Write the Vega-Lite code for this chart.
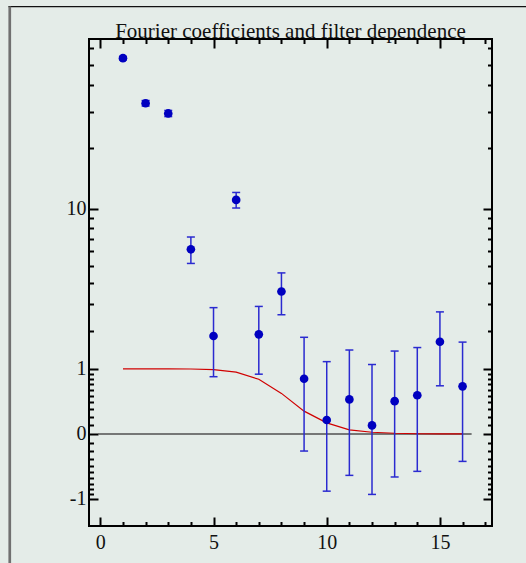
{
  "$schema": "https://vega.github.io/schema/vega-lite/v6.json",
  "width": 403,
  "height": 487,
  "autosize": {"type": "none"},
  "padding": {"left": 89, "top": 39, "right": 34, "bottom": 37},
  "background": "#e4ece8",
  "title": {
    "text": "Fourier coefficients and filter dependence",
    "font": "Liberation Serif",
    "fontSize": 21,
    "fontWeight": "normal",
    "color": "#111111",
    "anchor": "middle",
    "frame": "group",
    "baseline": "alphabetic",
    "offset": -54
  },
  "config": {
    "view": {"stroke": "#000000", "strokeWidth": 2},
    "axis": {
      "grid": false,
      "domain": false,
      "labelFont": "Liberation Serif",
      "labelFontSize": 20,
      "labelColor": "#111111",
      "tickColor": "#000000",
      "tickWidth": 2,
      "title": null
    }
  },
  "data": {
    "values": [
      {"x": 1, "y": 53.8, "lo": 52.8, "hi": 54.8, "filter": 1.0},
      {"x": 2, "y": 32.9, "lo": 31.9, "hi": 33.9, "filter": 1.0},
      {"x": 3, "y": 29.4, "lo": 28.4, "hi": 30.4, "filter": 1.0},
      {"x": 4, "y": 6.15, "lo": 5.15, "hi": 7.15, "filter": 0.997},
      {"x": 5, "y": 1.84, "lo": 0.84, "hi": 2.84, "filter": 0.985},
      {"x": 6, "y": 11.1, "lo": 10.1, "hi": 12.1, "filter": 0.93},
      {"x": 7, "y": 1.89, "lo": 0.89, "hi": 2.89, "filter": 0.79},
      {"x": 8, "y": 3.56, "lo": 2.56, "hi": 4.56, "filter": 0.54},
      {"x": 9, "y": 0.8, "lo": -0.2, "hi": 1.8, "filter": 0.275},
      {"x": 10, "y": 0.16, "lo": -0.84, "hi": 1.16, "filter": 0.125},
      {"x": 11, "y": 0.445, "lo": -0.555, "hi": 1.445, "filter": 0.045},
      {"x": 12, "y": 0.095, "lo": -0.905, "hi": 1.095, "filter": 0.018},
      {"x": 13, "y": 0.418, "lo": -0.582, "hi": 1.418, "filter": 0.007},
      {"x": 14, "y": 0.51, "lo": -0.49, "hi": 1.51, "filter": 0.002},
      {"x": 15, "y": 1.67, "lo": 0.67, "hi": 2.67, "filter": 0.001},
      {"x": 16, "y": 0.66, "lo": -0.34, "hi": 1.66, "filter": 0.0}
    ]
  },
  "resolve": {"axis": {"x": "independent", "y": "independent"}},
  "layer": [
    {
      "data": {"values": [{"k": 1}]},
      "mark": {"type": "rule", "color": "#111111", "strokeWidth": 1.3},
      "encoding": {
        "x": {"datum": -4.06, "type": "quantitative", "scale": {"domain": [-0.5, 17.3], "nice": false, "zero": false}, "axis": null},
        "x2": {"datum": 30},
        "y": {"datum": 93.9, "type": "quantitative", "scale": {"type": "symlog", "constant": 1, "domain": [-1.667, 66.2], "nice": false, "zero": false}, "axis": null}
      }
    },
    {
      "data": {"values": [{"k": 1}]},
      "mark": {"type": "rule", "color": "#707070", "strokeWidth": 2.7},
      "encoding": {
        "x": {"datum": -4.0, "type": "quantitative", "scale": {"domain": [-0.5, 17.3], "nice": false, "zero": false}, "axis": null},
        "y": {"datum": 93.9, "type": "quantitative", "scale": {"type": "symlog", "constant": 1, "domain": [-1.667, 66.2], "nice": false, "zero": false}, "axis": null},
        "y2": {"datum": -10}
      }
    },
    {
      "data": {"values": [{"k": 1}]},
      "mark": {"type": "rule", "color": "#505050", "strokeWidth": 1.5},
      "encoding": {
        "x": {"datum": -0.1, "type": "quantitative", "scale": {"domain": [-0.5, 17.3], "nice": false, "zero": false},
          "axis": {"orient": "bottom", "values": [0, 5, 10, 15], "ticks": false, "labelPadding": 6, "labelExpr": "datum.value + ''", "title": null}},
        "x2": {"datum": 16.4},
        "y": {"datum": 0, "type": "quantitative", "scale": {"type": "symlog", "constant": 1, "domain": [-1.667, 66.2], "nice": false, "zero": false},
          "axis": {"orient": "left", "values": [-1, 0, 1, 10], "ticks": false, "labelPadding": 3, "labelExpr": "datum.value + ''", "title": null}}
      }
    },
    {
      "mark": {"type": "line", "color": "#d00000", "strokeWidth": 1.2},
      "encoding": {
        "x": {"field": "x", "type": "quantitative", "scale": {"domain": [-0.5, 17.3], "nice": false, "zero": false},
          "axis": {"orient": "top", "values": [1, 2, 3, 4, 6, 7, 8, 9, 11, 12, 13, 14, 16, 17], "labels": false, "tickSize": -4.5, "title": null}},
        "y": {"field": "filter", "type": "quantitative", "scale": {"type": "symlog", "constant": 1, "domain": [-1.667, 66.2], "nice": false, "zero": false},
          "axis": {"orient": "right", "values": [-0.9, -0.8, -0.7, -0.6, -0.5, -0.4, -0.3, -0.2, -0.1, 0.1, 0.2, 0.3, 0.4, 0.5, 0.6, 0.7, 0.8, 0.9, 2, 3, 4, 5, 6, 7, 8, 9, 20, 30, 40, 50, 60], "labels": false, "tickSize": -4.5, "title": null}}
      }
    },
    {
      "mark": {"type": "rule", "color": "#2a2ad0", "strokeWidth": 1.5},
      "encoding": {
        "x": {"field": "x", "type": "quantitative", "scale": {"domain": [-0.5, 17.3], "nice": false, "zero": false},
          "axis": {"orient": "bottom", "values": [0, 5, 10, 15], "labels": false, "tickSize": -9, "title": null}},
        "y": {"field": "lo", "type": "quantitative", "scale": {"type": "symlog", "constant": 1, "domain": [-1.667, 66.2], "nice": false, "zero": false},
          "axis": {"orient": "left", "values": [-1, 0, 1, 10], "labels": false, "tickSize": -9, "title": null}},
        "y2": {"field": "hi"}
      }
    },
    {
      "mark": {"type": "tick", "color": "#2a2ad0", "orient": "horizontal", "size": 8, "thickness": 1.5, "opacity": 1},
      "encoding": {
        "x": {"field": "x", "type": "quantitative", "scale": {"domain": [-0.5, 17.3], "nice": false, "zero": false},
          "axis": {"orient": "bottom", "values": [1, 2, 3, 4, 6, 7, 8, 9, 11, 12, 13, 14, 16, 17], "labels": false, "tickSize": -4.5, "title": null}},
        "y": {"field": "lo", "type": "quantitative", "scale": {"type": "symlog", "constant": 1, "domain": [-1.667, 66.2], "nice": false, "zero": false},
          "axis": {"orient": "left", "values": [-0.9, -0.8, -0.7, -0.6, -0.5, -0.4, -0.3, -0.2, -0.1, 0.1, 0.2, 0.3, 0.4, 0.5, 0.6, 0.7, 0.8, 0.9, 2, 3, 4, 5, 6, 7, 8, 9, 20, 30, 40, 50, 60], "labels": false, "tickSize": -4.5, "title": null}}
      }
    },
    {
      "mark": {"type": "tick", "color": "#2a2ad0", "orient": "horizontal", "size": 8, "thickness": 1.5, "opacity": 1},
      "encoding": {
        "x": {"field": "x", "type": "quantitative", "scale": {"domain": [-0.5, 17.3], "nice": false, "zero": false},
          "axis": {"orient": "top", "values": [0, 5, 10, 15], "labels": false, "tickSize": -9, "title": null}},
        "y": {"field": "hi", "type": "quantitative", "scale": {"type": "symlog", "constant": 1, "domain": [-1.667, 66.2], "nice": false, "zero": false},
          "axis": {"orient": "right", "values": [-1, 0, 1, 10], "labels": false, "tickSize": -9, "title": null}}
      }
    },
    {
      "mark": {"type": "point", "filled": true, "size": 75, "color": "#0000c0", "opacity": 1},
      "encoding": {
        "x": {"field": "x", "type": "quantitative", "scale": {"domain": [-0.5, 17.3], "nice": false, "zero": false}, "axis": null},
        "y": {"field": "y", "type": "quantitative", "scale": {"type": "symlog", "constant": 1, "domain": [-1.667, 66.2], "nice": false, "zero": false}, "axis": null}
      }
    }
  ]
}
